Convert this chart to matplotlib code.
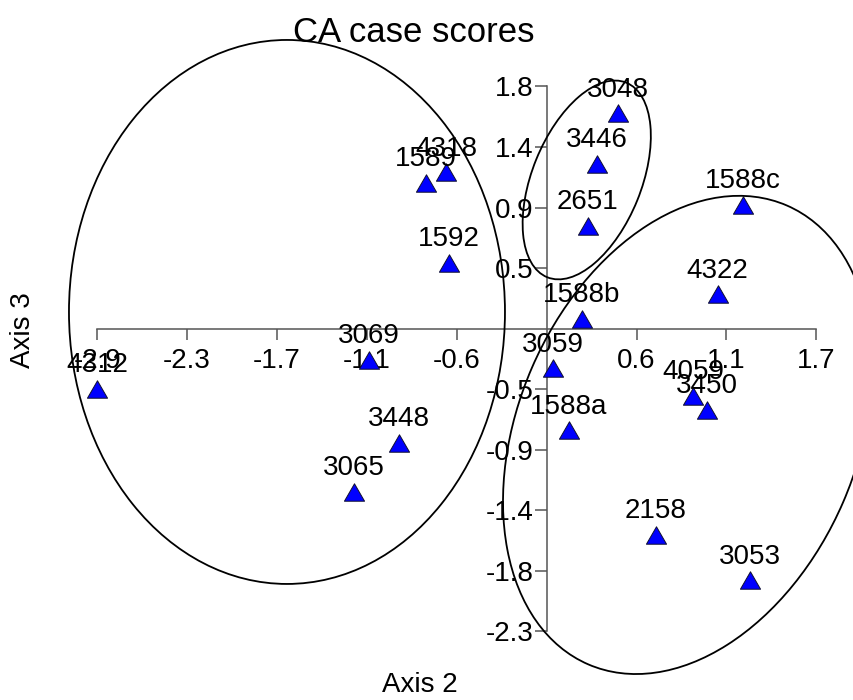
import numpy as np
import matplotlib
matplotlib.use("Agg")
import matplotlib.pyplot as plt
from matplotlib.patches import Ellipse
from matplotlib.path import Path
import matplotlib.transforms as mtransforms

plt.rcParams['font.family'] = ['Liberation Sans', 'DejaVu Sans']

# case scores (axis 2, axis 3)
cases = ['4312', '3069', '3448', '3065', '1589', '4318', '1592', '3048', '3446', '2651',
         '1588c', '4322', '1588b', '3059', '4059', '3450', '1588a', '2158', '3053']
axis2 = [-2.864, -1.132, -0.941, -1.227, -0.771, -0.641, -0.624, 0.454, 0.320, 0.263,
         1.250, 1.089, 0.223, 0.042, 0.932, 1.021, 0.142, 0.694, 1.293]
axis3 = [-0.452, -0.236, -0.858, -1.230, 1.099, 1.178, 0.497, 1.622, 1.240, 0.773,
         0.931, 0.259, 0.073, -0.298, -0.507, -0.612, -0.765, -1.551, -1.895]

# tick marks: the program spaces them evenly and rounds the labels
x_step = 0.5725
x_mult = [-5, -4, -3, -2, -1, 1, 2, 3]
x_labels = ['-2.9', '-2.3', '-1.7', '-1.1', '-0.6', '0.6', '1.1', '1.7']
y_step = 0.456
y_mult = [4, 3, 2, 1, -1, -2, -3, -4, -5]
y_labels = ['1.8', '1.4', '0.9', '0.5', '-0.5', '-0.9', '-1.4', '-1.8', '-2.3']

# hand-drawn group outlines: centre in data units, size in pixels, angle in degrees
group_centres = [(-1.654, 0.126), (0.255, 1.120), (0.897, -0.800)]
group_sizes = [(436, 544), (210, 109), (500, 339)]
group_angles = [0, 67.9, 66.6]

fig = plt.figure(figsize=(8.54, 7.0), dpi=100)
ax = fig.add_axes([0, 0, 1, 1])
ax.set_xlim(-3.4815, 1.957)
ax.set_ylim(-2.796, 2.475)

axis_col = '#555555'
for side in ['top', 'right']:
    ax.spines[side].set_visible(False)
ax.spines['left'].set_position(('data', 0))
ax.spines['bottom'].set_position(('data', 0))
ax.spines['bottom'].set_bounds(x_mult[0] * x_step, x_mult[-1] * x_step)
ax.spines['left'].set_bounds(y_mult[-1] * y_step, y_mult[0] * y_step)
for side in ['left', 'bottom']:
    ax.spines[side].set_color(axis_col)
    ax.spines[side].set_linewidth(1.1)

ax.set_xticks([m * x_step for m in x_mult])
ax.set_xticklabels(x_labels)
ax.set_yticks([m * y_step for m in y_mult])
ax.set_yticklabels(y_labels)
ax.tick_params(axis='x', direction='out', length=8, width=1.1, color=axis_col, pad=6, labelsize=20)
ax.tick_params(axis='y', direction='out', length=8.5, width=1.1, color=axis_col, pad=1, labelsize=20)

# triangle marker, equilateral
tri = Path([(-1, -0.866), (1, -0.866), (0, 0.866), (-1, -0.866)],
           [Path.MOVETO, Path.LINETO, Path.LINETO, Path.CLOSEPOLY])
ax.plot(axis2, axis3, linestyle='none', marker=tri, markersize=14.5,
        markerfacecolor='#0000ff', markeredgecolor='#101030', markeredgewidth=0.7,
        clip_on=False, zorder=3)
for name, x, y in zip(cases, axis2, axis3):
    ax.annotate(name, (x, y), xytext=(0, 12), textcoords='offset points',
                ha='center', va='baseline', fontsize=20, zorder=4)

for (cx, cy), (w, h), ang in zip(group_centres, group_sizes, group_angles):
    tr = fig.dpi_scale_trans + mtransforms.ScaledTranslation(cx, cy, ax.transData)
    ax.add_patch(Ellipse((0, 0), w / 100, h / 100, angle=ang, transform=tr,
                         fill=False, edgecolor='black', linewidth=1.3, zorder=5))

fig.text(414 / 854, 1 - 33 / 700, 'CA case scores', ha='center', va='center', fontsize=25)
fig.text(420 / 854, 1 - 685 / 700, 'Axis 2', ha='center', va='center', fontsize=20)
fig.text(23 / 854, 1 - 330 / 700, 'Axis 3', ha='center', va='center', fontsize=20, rotation=90)

fig.savefig('out.png', dpi=100)
